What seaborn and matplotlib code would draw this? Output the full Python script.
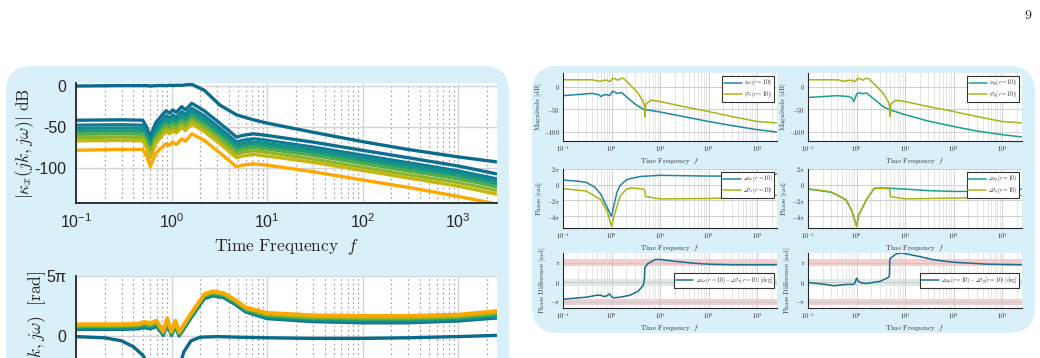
import matplotlib
matplotlib.use('Agg')
import matplotlib.pyplot as plt
import seaborn as sns
import numpy as np
from matplotlib.patches import FancyBboxPatch
from matplotlib.ticker import LogLocator, NullFormatter, FixedLocator, FixedFormatter

# ---- left panel: magnitude of kappa_x for several k (dB) ----
freq_mag = [0.1, 0.3, 0.5, 0.55, 0.6, 0.68, 0.8, 0.88, 0.95, 1.03, 1.12, 1.28, 1.4, 1.63,
            2.2, 3.2, 4.8, 5.5, 7.2, 10, 30, 100, 300, 1000, 2500]
mag_top = [0, 0.5, 0.5, 0.5, 0, 0.5, 0.8, 0.5, 1, 0.5, 1, 0.8, 1.5, 2,
           -5, -23, -35, -37, -41, -45, -56, -67.5, -77, -86, -92]
mag_k1 = [-41.5, -41, -41.5, -50, -62, -45, -35, -30, -33, -29, -32, -25, -29, -21,
          -30, -45, -62, -60, -58, -60, -68, -78, -87, -97, -106.5]
mag_k2 = [-47.5, -47, -47.5, -56, -68, -51, -41, -36, -39, -35, -38, -31, -35, -27,
          -36, -51, -68, -66, -64, -66, -74, -84, -93, -103, -112.5]
mag_k3 = [-51.5, -51, -51.5, -60, -72, -55, -45, -40, -43, -39, -42, -35, -39, -31,
          -40, -55, -72, -70, -68, -70, -77.5, -87.5, -96.5, -106, -115.5]
mag_k4 = [-55, -54.5, -55, -63.5, -75.5, -58.5, -48.5, -43.5, -46.5, -42.5, -45.5, -38.5, -42.5, -34.5,
          -43.5, -58.5, -75, -73, -71, -73, -80.5, -90.5, -99.5, -109, -118.5]
mag_k5 = [-58.5, -58, -58.5, -67, -79, -62, -52, -47, -50, -46, -49, -42, -46, -38,
          -47, -62, -78.5, -76.5, -74.5, -76.5, -84, -94, -103, -112.5, -122]
mag_k6 = [-62.5, -62, -62.5, -71, -83, -66, -56, -51, -54, -50, -53, -46, -50, -42,
          -51, -66, -82.5, -80.5, -78.5, -80.5, -88.5, -98.5, -107.5, -117, -126.5]
mag_k7 = [-66.5, -66, -66.5, -75, -87, -70, -60, -55, -58, -54, -57, -50, -54, -46,
          -55, -70, -87, -85, -83, -85, -92.5, -102.5, -111.5, -121.5, -131]
mag_k8 = [-78, -77, -77, -85, -98, -82, -74, -70, -72, -68, -71, -64, -67, -58,
          -66, -81, -98, -96, -94.5, -96, -104, -114, -123, -134, -143]

# ---- left panel: phase (units of pi) ----
freq_ph = [0.1, 0.3, 0.45, 0.52, 0.6, 0.7, 0.82, 0.9, 1.0, 1.1, 1.2, 1.35, 1.63, 2.2,
           2.7, 3.5, 4.5, 6, 10, 30, 100, 300, 1000, 2500]
ph_k1 = [0.55, 0.55, 0.6, 0.7, 0.6, 0.8, 0.05, 1.0, 0.05, 0.8, 0.0, 0.6, 1.6, 3.1,
         3.35, 3.2, 2.7, 2.0, 1.45, 1.2, 1.1, 1.1, 1.25, 1.5]
ph_k2 = [0.62, 0.62, 0.67, 0.77, 0.67, 0.87, 0.1, 1.07, 0.1, 0.87, 0.05, 0.66, 1.66, 3.16,
         3.41, 3.26, 2.76, 2.06, 1.52, 1.28, 1.18, 1.18, 1.33, 1.58]
ph_k3 = [0.68, 0.68, 0.73, 0.84, 0.74, 0.94, 0.15, 1.14, 0.15, 0.94, 0.1, 0.72, 1.72, 3.22,
         3.47, 3.32, 2.82, 2.12, 1.59, 1.36, 1.26, 1.26, 1.4, 1.67]
ph_k4 = [0.75, 0.75, 0.8, 0.91, 0.81, 1.01, 0.2, 1.21, 0.2, 1.01, 0.15, 0.78, 1.78, 3.28,
         3.53, 3.38, 2.88, 2.18, 1.66, 1.43, 1.36, 1.36, 1.48, 1.75]
ph_k5 = [0.81, 0.81, 0.86, 0.98, 0.88, 1.08, 0.25, 1.28, 0.25, 1.08, 0.2, 0.84, 1.84, 3.34,
         3.59, 3.44, 2.94, 2.24, 1.73, 1.51, 1.44, 1.44, 1.56, 1.84]
ph_k6 = [0.87, 0.87, 0.92, 1.05, 0.95, 1.15, 0.3, 1.35, 0.3, 1.15, 0.25, 0.88, 1.88, 3.39,
         3.64, 3.49, 2.99, 2.29, 1.8, 1.59, 1.52, 1.52, 1.64, 1.93]
ph_k7 = [0.93, 0.93, 0.98, 1.12, 1.02, 1.22, 0.35, 1.42, 0.35, 1.22, 0.3, 0.94, 1.94, 3.45,
         3.7, 3.55, 3.05, 2.35, 1.87, 1.67, 1.61, 1.61, 1.72, 2.02]
ph_k8 = [1.0, 1.0, 1.05, 1.2, 1.1, 1.3, 0.4, 1.5, 0.4, 1.3, 0.35, 1.0, 2.0, 3.5,
         3.75, 3.6, 3.1, 2.4, 1.95, 1.75, 1.7, 1.7, 1.8, 2.1]
freq_ph_top = [0.1, 0.2, 0.3, 0.4, 0.5, 0.6, 0.8, 1.0, 1.2, 1.35, 1.6, 2.0, 3, 5, 10, 30, 100, 300, 1000, 2500]
ph_top = [-0.05, -0.15, -0.4, -0.9, -1.6, -2.6, -3.6, -4.2, -2.6, -1.3, -0.4, -0.1, -0.05, -0.1,
          -0.15, -0.2, -0.2, -0.15, -0.05, 0.05]

# ---- right panel: r = 10 comparison ----
f_kx = [0.1, 0.4, 0.55, 0.6, 0.7, 0.8, 0.9, 0.95, 1.05, 1.2, 1.3, 1.6, 2.0, 3.0, 4.5, 10, 30, 100, 300, 1000, 2500]
mag_kx = [-20, -15, -18, -22, -18, -18, -20, -18, -10, -13, -15, -13, -22, -38, -50, -56, -66, -77, -86, -95, -100]
f_ky = [0.1, 0.4, 0.7, 0.8, 0.88, 0.92, 1.0, 1.15, 1.3, 1.6, 2.4, 3.5, 4.8, 10, 30, 100, 300, 1000, 2500]
mag_ky = [-24, -20, -22, -25, -33, -28, -17, -13, -16, -14, -29, -44, -51, -62, -76, -88, -98, -106, -111]
f_sig = [0.1, 0.4, 0.55, 0.6, 0.7, 0.8, 0.9, 0.95, 1.05, 1.2, 1.35, 1.6, 1.8, 2.4, 3.5, 4.5, 4.8, 4.9,
         5.1, 6.5, 10, 30, 100, 300, 1000, 2500]
mag_sig = [15, 15, 12, 12, 14, 14, 11, 12, 18, 17, 14, 18.5, 17, 4, -14, -33, -45, -66,
           -38, -30, -33, -44, -55, -66, -77, -80]

f_pkx = [0.1, 0.2, 0.3, 0.45, 0.6, 0.8, 0.95, 1.0, 1.1, 1.3, 1.5, 2.0, 2.5, 4, 10, 30, 100, 1000, 2000, 2500]
ph_kx = [0.6, 0.45, 0.3, -0.3, -1.2, -2.8, -3.8, -4.0, -2.8, -0.9, -0.1, 0.6, 0.8, 1.05, 1.2, 1.15, 1.1, 1.1, 1.15, 1.4]
f_psx = [0.1, 0.3, 0.6, 0.8, 0.95, 1.0, 1.15, 1.5, 2.0, 2.5, 4.5, 4.85, 5.0, 10, 100, 1000, 2500]
ph_sx = [-0.5, -0.8, -1.9, -3.3, -4.8, -5.3, -3.8, -1.45, -0.6, -0.4, -0.55, -0.75, -1.5, -1.8, -1.75, -1.5, -1.35]
f_pky = [0.1, 0.3, 0.6, 0.8, 0.95, 1.0, 1.1, 1.6, 2.3, 3.5, 5, 10, 30, 100, 300, 1000, 2500]
ph_ky = [-0.55, -0.95, -1.9, -3.3, -4.8, -5.25, -3.9, -1.9, -0.45, -0.4, -0.45, -0.55, -0.75, -0.85, -0.85, -0.75, -0.55]
f_psy = [0.1, 0.3, 0.6, 0.8, 0.95, 1.0, 1.1, 1.6, 2.3, 3.5, 4.8, 5.0, 10, 100, 1000, 2500]
ph_sy = [-0.5, -0.9, -1.85, -3.3, -4.8, -5.3, -3.9, -1.9, -0.5, -0.45, -0.55, -1.5, -1.8, -1.7, -1.5, -1.35]

f_dx = [0.1, 0.3, 0.5, 0.6, 0.7, 0.8, 0.9, 1.0, 1.1, 1.5, 2.4, 3.5, 4.5, 4.75, 4.85, 5.5, 8, 10, 20, 50,
        100, 300, 1000, 2500]
diff_x = [-0.85, -0.75, -0.65, -0.65, -0.72, -0.68, -0.58, -0.72, -0.78, -0.75, -0.65, -0.45, -0.15, 0.2,
          0.75, 0.95, 1.17, 1.17, 1.08, 0.98, 0.93, 0.9, 0.9, 0.9]
f_dy = [0.1, 0.2, 0.35, 0.6, 0.85, 0.92, 1.0, 1.1, 1.3, 1.6, 3.0, 4.5, 4.75, 4.85, 6.5, 8.5, 19, 40,
        100, 500, 2500]
diff_y = [0.0, -0.08, -0.17, -0.1, -0.1, -0.05, 0.22, 0.05, -0.03, -0.05, 0.05, 0.25, 0.35, 1.2,
          1.45, 1.5, 1.33, 1.15, 1.03, 0.93, 0.9]

top_color = '#0b6a8b'
group_colors = ['#0d6f90', '#127e95', '#128e8d', '#1c9c7b', '#52aa4c', '#8db42a', '#c6b60c', '#fca800']
kx_color, ky_color, sig_color, diff_color = '#1f86a1', '#17a08a', '#a9b414', '#176f92'
panel_color = '#d9f0fa'

sns.set_style('white')
plt.rcParams['font.family'] = ['Liberation Sans', 'DejaVu Sans']
plt.rcParams['mathtext.fontset'] = 'cm'
plt.rcParams['axes.unicode_minus'] = False

W, H = 1040, 358
fig = plt.figure(figsize=(W / 100, H / 100), dpi=100)


def add_ax(x0, y0, x1, y1):
    return fig.add_axes([x0 / W, 1 - y1 / H, (x1 - x0) / W, (y1 - y0) / H])


bg = fig.add_axes([0, 0, 1, 1], zorder=-10)
bg.set_xlim(0, W)
bg.set_ylim(H, 0)
bg.axis('off')
for x0, y0, x1, y1 in [(6, 66, 509, 470), (532, 66, 1035, 333)]:
    bg.add_patch(FancyBboxPatch((x0, y0), x1 - x0, y1 - y0, boxstyle='round,pad=0,rounding_size=26',
                                fc=panel_color, ec='none'))
bg.text(1028, 15, r'$\mathrm{9}$', ha='center', va='center', fontsize=10, color='#222222')


def log_x(ax, big):
    ax.set_xscale('log')
    ax.set_xlim(0.1, 2560)
    ax.xaxis.set_major_locator(LogLocator(10, numticks=12))
    ax.xaxis.set_minor_locator(LogLocator(10, subs=np.arange(2, 10) * 1.0, numticks=100))
    ax.xaxis.set_minor_formatter(NullFormatter())
    ax.set_facecolor('white')
    for s in ['top', 'right']:
        ax.spines[s].set_visible(False)
    for s in ['left', 'bottom']:
        ax.spines[s].set_color('#262626')
        ax.spines[s].set_linewidth(1.3 if big else 0.8)
    if big:
        ax.grid(True, which='major', color='#d4d4d4', lw=1.0)
        ax.grid(True, which='minor', axis='x', color='#a8a8a8', lw=0.9, ls=(0, (1.5, 2.2)))
        ax.tick_params(which='both', direction='in', length=0, labelsize=11.5, colors='#262626', pad=7)
    else:
        ax.grid(True, which='major', color='#c8c8c8', lw=0.6)
        ax.grid(True, which='minor', axis='x', color='#dadada', lw=0.5)
        ax.tick_params(which='major', direction='in', length=2.2, width=0.5, labelsize=4.5, pad=2)
        ax.tick_params(which='minor', direction='in', length=1.3, width=0.5)
        ax.xaxis.set_major_formatter(FixedFormatter(['', r'$10^{-1}$', r'$10^{0}$', r'$10^{1}$',
                                                     r'$10^{2}$', r'$10^{3}$', '']))
        ax.xaxis.set_major_locator(FixedLocator([0.01, 0.1, 1, 10, 100, 1000, 10000]))
        ax.set_xlabel(r'$\mathrm{Time\ Frequency}\ \ f$', fontsize=5, labelpad=1.5, color='#333333')


# left: magnitude
ax1 = add_ax(76, 83, 497, 203)
log_x(ax1, True)
sns.lineplot(x=freq_mag, y=mag_top, ax=ax1, color=top_color, lw=2.4)
for vals, c in zip([mag_k1, mag_k2, mag_k3, mag_k4, mag_k5, mag_k6, mag_k7, mag_k8], group_colors):
    sns.lineplot(x=freq_mag, y=vals, ax=ax1, color=c, lw=2.4)
ax1.set_ylim(-142, 3.7)
ax1.set_yticks([-100, -50, 0])
ax1.set_xlabel(r'$\mathrm{Time\ Frequency}\ \ f$', fontsize=12.5, labelpad=4)
ax1.set_ylabel(r'$|\kappa_x(jk,j\omega)|\ \mathrm{dB}$', fontsize=12.5, labelpad=-1)

# left: phase (lower half runs past the page edge, as in the source)
ax2 = add_ax(76, 276, 497, 396)
log_x(ax2, True)
sns.lineplot(x=freq_ph_top, y=ph_top, ax=ax2, color=top_color, lw=2.4)
for vals, c in zip([ph_k1, ph_k2, ph_k3, ph_k4, ph_k5, ph_k6, ph_k7, ph_k8], group_colors):
    sns.lineplot(x=freq_ph, y=vals, ax=ax2, color=c, lw=2.4)
ax2.set_ylim(-5, 5)
ax2.set_yticks([0, 5])
ax2.set_yticklabels(['0', '5π'])
ax2.tick_params(axis='x', labelbottom=False)
ax2.set_ylabel(r'$\angle\kappa_x(jk,j\omega)\ \ \mathrm{[rad]}$', fontsize=12.5, labelpad=-1)

# right panel
cols = [(563, 777), (808, 1022)]
rows = [(73, 141), (169, 228), (253, 308)]
kap_f = [(f_kx, mag_kx, f_pkx, ph_kx, f_dx, diff_x, kx_color, 'x'),
         (f_ky, mag_ky, f_pky, ph_ky, f_dy, diff_y, ky_color, 'y')]
sig_ph = [(f_psx, ph_sx), (f_psy, ph_sy)]
leg_kw = dict(fontsize=4, frameon=True, fancybox=False, framealpha=1, edgecolor='#333333',
              handlelength=3.2, borderpad=0.3, labelspacing=0.15, handletextpad=0.4, borderaxespad=0.5)

for (cx0, cx1), (fk, mk, fp, pk, fd, dv, kc, sub), (fs, ps) in zip(cols, kap_f, sig_ph):
    a = add_ax(cx0, rows[0][0], cx1, rows[0][1])
    log_x(a, False)
    sns.lineplot(x=fk, y=mk, ax=a, color=kc, lw=1.1, label=r'$|\kappa_%s(r=10)|$' % sub)
    sns.lineplot(x=f_sig, y=mag_sig, ax=a, color=sig_color, lw=1.1, label=r'$|\sigma_%s(r=10)|$' % sub)
    a.set_ylim(-120, 30)
    a.set_yticks([-100, -50, 0])
    a.set_yticklabels([r'$-100$', r'$-50$', r'$0$'])
    a.set_ylabel(r'$\mathrm{Magnitude\ [dB]}$', fontsize=5, labelpad=0.5, color='#333333')
    lg = a.legend(loc='upper right', **leg_kw)
    lg.get_frame().set_linewidth(0.8)

    a = add_ax(cx0, rows[1][0], cx1, rows[1][1])
    log_x(a, False)
    sns.lineplot(x=fp, y=pk, ax=a, color=kc, lw=1.1, label=r'$\angle\kappa_%s(r=10)$' % sub)
    sns.lineplot(x=fs, y=ps, ax=a, color=sig_color, lw=1.1, label=r'$\angle\sigma_%s(r=10)$' % sub)
    a.set_ylim(-5.5, 2)
    a.set_yticks([-4, -2, 0, 2])
    a.set_yticklabels([r'$-4\pi$', r'$-2\pi$', r'$0$', r'$2\pi$'])
    a.set_ylabel(r'$\mathrm{Phase\ [rad]}$', fontsize=5, labelpad=1, color='#333333')
    lg = a.legend(loc='upper right', **leg_kw)
    lg.get_frame().set_linewidth(0.8)

    a = add_ax(cx0, rows[2][0], cx1, rows[2][1])
    log_x(a, False)
    a.axhspan(0.83, 1.17, color='#f5cccc', lw=0, zorder=0.5)
    a.axhspan(-1.17, -0.83, color='#f5cccc', lw=0, zorder=0.5)
    a.axhspan(-0.17, 0.17, color='#dcece0', lw=0, zorder=0.5)
    sns.lineplot(x=fd, y=dv, ax=a, color=diff_color, lw=1.1,
                 label=r'$\angle\kappa_%s(r=10) - \angle\sigma_%s(r=10)\ \mathrm{[deg]}$' % (sub, sub))
    a.set_ylim(-1.3, 1.5)
    a.set_yticks([-1, 0, 1])
    a.set_yticklabels([r'$-\pi$', r'$0$', r'$\pi$'])
    a.set_ylabel(r'$\mathrm{Phase\ Difference\ [rad]}$', fontsize=5, labelpad=1, color='#333333')
    lg = a.legend(loc='center right', **leg_kw)
    lg.get_frame().set_linewidth(0.8)

fig.savefig('out.png', dpi=100)
